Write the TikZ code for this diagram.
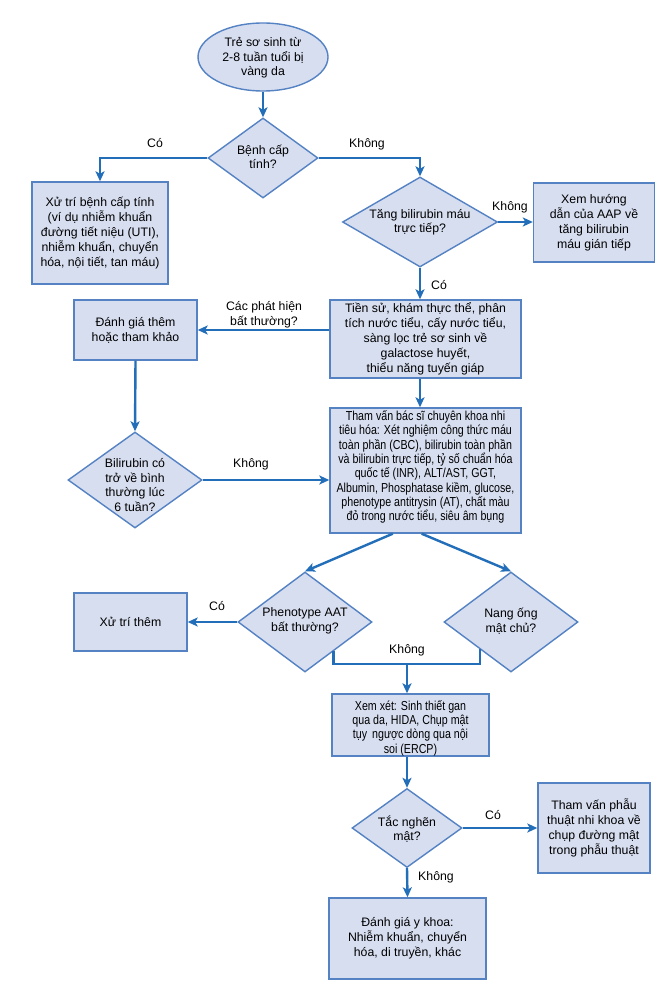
\documentclass[tikz,border=0pt]{standalone}
\usepackage{fontspec}
\setmainfont{Liberation Sans}
\newfontfamily\narrowfont[FakeStretch=0.82]{Liberation Sans}
\usetikzlibrary{arrows.meta,shapes.geometric,calc}
\definecolor{boxfill}{RGB}{215,222,240}
\definecolor{boxline}{RGB}{84,130,195}
\definecolor{arrowc}{RGB}{35,110,185}
\begin{document}
\begin{tikzpicture}[x=1pt,y=-1pt,
  box/.style={draw=boxline, fill=boxfill, line width=1.4pt, rectangle, inner sep=0pt, align=center, font=\fontsize{12.3}{15}\selectfont},
  narrowbox/.style={box, font=\narrowfont\fontsize{13}{14.3}\selectfont},
  dia/.style={draw=boxline, fill=boxfill, line width=1.4pt, diamond, inner sep=0pt},
  ell/.style={draw=boxline, fill=boxfill, line width=1.4pt, ellipse, inner sep=0pt},
  txt/.style={inner sep=0pt, align=center, font=\fontsize{12.3}{14.5}\selectfont},
  lbl/.style={inner sep=0pt, align=center, font=\fontsize{12.3}{15}\selectfont},
  arr/.style={draw=arrowc, line width=2.4pt, -{Stealth[length=10pt,width=9pt,inset=2.5pt]}},
  conn/.style={draw=arrowc, line width=2.4pt}
]
\useasboundingbox (0,0) rectangle (668,1003);
\fill[white] (0,0) rectangle (668,1003);

% start
\node[ell, minimum width=130, minimum height=68] (start) at (263,57) {};
\node[txt] (startt) at (263,58) {Trẻ sơ sinh từ\\2-8 tuần tuổi bị\\vàng da};

% decision 1
\node[dia, minimum width=110, minimum height=80] (d1) at (263,158) {};
\node[txt] (d1t) at (263,157) {Bệnh cấp\\tính?};

% box 1
\node[box, minimum width=136, minimum height=102] (b1) at (100,233) {Xử trí bệnh cấp tính\\(ví dụ nhiễm khuẩn\\đường tiết niệu (UTI),\\nhiễm khuẩn, chuyển\\hóa, nội tiết, tan máu)};

% decision 2
\node[dia, minimum width=155, minimum height=90] (d2) at (420,222) {};
\node[txt] (d2t) at (420,222) {Tăng bilirubin máu\\trực tiếp?};

% box 2
\node[box, minimum width=121, minimum height=79] (b2) at (594,222.5) {Xem hướng\\dẫn của AAP về\\tăng bilirubin\\máu gián tiếp};

% box 3
\node[box, minimum width=191, minimum height=78] (b3) at (425.5,339) {Tiền sử, khám thực thể, phân\\tích nước tiểu, cấy nước tiểu,\\sàng lọc trẻ sơ sinh về\\galactose huyết,\\thiểu năng tuyến giáp};

% box 4
\node[box, minimum width=123, minimum height=60] (b4) at (135.5,330) {Đánh giá thêm\\hoặc tham khảo};

% decision 3
\node[dia, minimum width=134, minimum height=96] (d3) at (135,480) {};
\node[txt] (d3t) at (135,485) {Bilirubin có\\trở về bình\\thường lúc\\6 tuần?};

% box 5
\node[narrowbox, minimum width=191, minimum height=125] (b5) at (425.5,470.5) {};
\node[inner sep=0pt, align=center, font=\narrowfont\fontsize{13}{14.3}\selectfont] (b5t) at (425.5,467) {Tham vấn bác sĩ chuyên khoa nhi\\tiêu hóa: Xét nghiệm công thức máu\\toàn phần (CBC), bilirubin toàn phần\\và bilirubin trực tiếp, tỷ số chuẩn hóa\\quốc tế (INR), ALT/AST, GGT,\\Albumin, Phosphatase kiềm, glucose,\\phenotype antitrysin (AT), chất màu\\đỏ trong nước tiểu, siêu âm bụng};

% decisions 4 and 5
\node[dia, minimum width=134, minimum height=100] (d4) at (305,622) {};
\node[txt] (d4t) at (305,621) {Phenotype AAT\\bất thường?};
\node[dia, minimum width=134, minimum height=100] (d5) at (511,622) {};
\node[txt] (d5t) at (511,621) {Nang ống\\mật chủ?};

% box 6
\node[box, minimum width=113, minimum height=58] (b6) at (130.5,622) {Xử trí thêm};

% box 7
\node[narrowbox, minimum width=157, minimum height=62] (b7) at (410.5,725) {};
\node[inner sep=0pt, align=center, font=\narrowfont\fontsize{13}{14.3}\selectfont] (b7t) at (410.5,728) {Xem xét: Sinh thiết gan\\qua da, HIDA, Chụp mật\\tụy\, ngược dòng qua nội\\soi (ERCP)};

% decision 6
\node[dia, minimum width=110, minimum height=79] (d6) at (407,828) {};
\node[txt] (d6t) at (407,829) {Tắc nghẽn\\mật?};

% box 8
\node[box, minimum width=112, minimum height=90] (b8) at (594,828) {Tham vấn phẫu\\thuật nhi khoa về\\chụp đường mật\\trong phẫu thuật};

% box 9
\node[box, minimum width=157, minimum height=81] (b9) at (407.5,938.5) {Đánh giá y khoa:\\Nhiễm khuẩn, chuyển\\hóa, di truyền, khác};

% connectors
\draw[arr] (start.south) -- (d1.north);
\draw[arr] (d1.west) -| (b1.north);
\draw[arr] (d1.east) -| (d2.north);
\draw[arr] (d2.east) -- (d2.east -| b2.west);
\draw[arr] (d2.south) -- (d2.south |- b3.north);
\draw[arr] (b4.east -| b3.west) -- (b4.east);
\draw[arr] (b4.south) -- (d3.north);
\draw[arr] (d3.east) -- (d3.east -| b5.west);
\draw[arr] (b3.south -| d2.south) -- (b5.north -| d2.south);
\coordinate (b5l) at ($(b5.south west)!0.33!(b5.south east)$);
\coordinate (b5r) at ($(b5.south west)!0.48!(b5.south east)$);
\draw[arr] (b5l) -- (d4.north);
\draw[arr] (b5r) -- (d5.north);
\draw[arr] (d4.west) -- (b6.east);
\coordinate (p4) at ($(d4.east)!0.58!(d4.south)$);
\coordinate (p5) at ($(d5.west)!0.54!(d5.south)$);
\coordinate (m) at (407,664);
\draw[conn] (p4) -- (p4 |- m) -- (p5 |- m) -- (p5);
\draw[arr] (m) -- (m |- b7.north);
\draw[arr] (b7.south -| d6.north) -- (d6.north);
\draw[arr] (d6.east) -- (b8.west);
\draw[arr] (d6.south) -- (b9.north);

% labels
\node[lbl] (l1) at (155,143) {Có};
\node[lbl] (l2) at (367,144) {Không};
\node[lbl] (l3) at (510,207) {Không};
\node[lbl] (l4) at (439,285) {Có};
\node[lbl] (l5) at (264,315) {Các phát hiện\\bất thường?};
\node[lbl] (l6) at (251,464) {Không};
\node[lbl] (l7) at (217,606) {Có};
\node[lbl] (l8) at (407,650) {Không};
\node[lbl] (l9) at (493,815) {Có};
\node[lbl] (l10) at (436,877) {Không};
\end{tikzpicture}
\end{document}
